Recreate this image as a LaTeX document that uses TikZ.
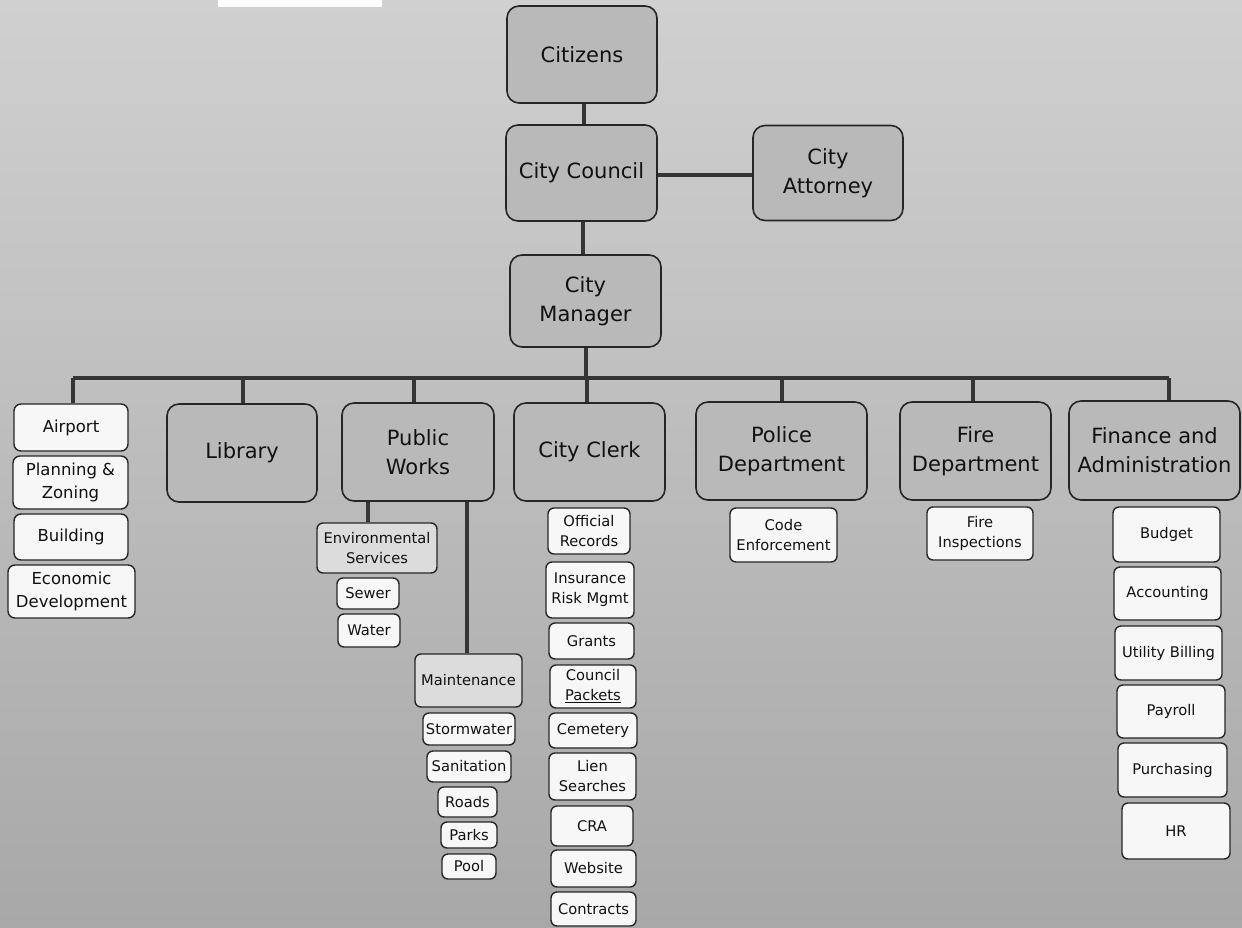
\documentclass[tikz,border=0pt]{standalone}
\usepackage{fontspec}
\setmainfont{DejaVu Sans}
\definecolor{bgtop}{HTML}{D0D0D0}
\definecolor{bgmid}{HTML}{ABABAB}
\definecolor{bgbot}{HTML}{A8A8A8}
\definecolor{boxgrey}{HTML}{B9B9B9}
\definecolor{boxwhite}{HTML}{F7F7F7}
\definecolor{boxlite}{HTML}{DCDCDC}
\definecolor{boxline}{HTML}{262626}
\definecolor{connc}{HTML}{353535}
\definecolor{txt}{HTML}{111111}
\begin{document}
\begin{tikzpicture}[x=1pt,y=-1pt,
  box/.style={draw=boxline, line width=1.6pt, rounded corners=12pt, fill=boxgrey, text=txt, align=center, inner sep=0pt, font=\fontsize{21}{29}\selectfont},
  sub/.style={draw=boxline, line width=1.4pt, rounded corners=6pt, fill=boxwhite, text=txt, align=center, inner sep=0pt, font=\fontsize{14.7}{20}\selectfont},
  side/.style={sub, rounded corners=7pt, font=\fontsize{16.5}{23}\selectfont},
  lite/.style={sub, fill=boxlite},
  conn/.style={draw=connc, line width=4pt},
  sz/.style 2 args={minimum width=#1pt, minimum height=#2pt}]
\useasboundingbox (0,0) rectangle (1242,927);
\shade[top color=bgtop, middle color=bgmid, bottom color=bgbot] (0,0) rectangle (1242,927);
\fill[white] (218,0) rectangle (382,7);

% top levels
\node[box, sz={150}{97}] (citizens) at (582,54.5) {Citizens};
\node[box, sz={151}{96}] (council) at (581.5,173) {City Council};
\node[box, sz={150}{95}] (attorney) at (828,173) {City\\Attorney};
\node[box, sz={151}{92}] (manager) at (585.5,301) {City\\Manager};

% second level
\node[side, sz={114}{47}] (airport) at (71,427.5) {Airport};
\node[side, sz={115}{53}] (planning) at (70.5,482.5) {Planning \&\\Zoning};
\node[side, sz={114}{46}] (building) at (71,537) {Building};
\node[side, sz={127}{53}] (econ) at (71.5,591.5) {Economic\\Development};
\node[box, sz={150}{98}] (library) at (242,453) {Library};
\node[box, sz={152}{98}] (pw) at (418,452) {Public\\Works};
\node[box, sz={151}{98}] (clerk) at (589.5,452) {City Clerk};
\node[box, sz={171}{98}] (police) at (781.5,451) {Police\\Department};
\node[box, sz={151}{98}] (fire) at (975.5,451) {Fire\\Department};
\node[box, sz={171}{99}] (finance) at (1154.5,450.5) {Finance and\\Administration};

% public works
\node[lite, sz={120}{50}] (env) at (377,548) {Environmental\\Services};
\node[sub, sz={62}{31}] (sewer) at (368,593.5) {Sewer};
\node[sub, sz={62}{33}] (water) at (369,630.5) {Water};
\node[lite, sz={107}{53}] (maint) at (468.5,680.5) {Maintenance};
\node[sub, sz={92}{32}] (storm) at (469,729) {Stormwater};
\node[sub, sz={84}{31}] (sanit) at (469,766.5) {Sanitation};
\node[sub, sz={59}{30}] (roads) at (467.5,802) {Roads};
\node[sub, sz={56}{26}] (parks) at (469,835) {Parks};
\node[sub, sz={54}{25}] (pool) at (469,866.5) {Pool};

% city clerk
\node[sub, sz={82}{46}] (records) at (589,531) {Official\\Records};
\node[sub, sz={88}{56}] (insurance) at (590,590) {Insurance\\Risk Mgmt};
\node[sub, sz={85}{36}] (grants) at (591.5,641) {Grants};
\node[sub, sz={86}{43}] (packets) at (593,686.5) {Council\\\underline{Packets}};
\node[sub, sz={88}{35}] (cemetery) at (593,730.5) {Cemetery};
\node[sub, sz={87}{47}] (lien) at (592.5,776.5) {Lien\\Searches};
\node[sub, sz={82}{40}] (cra) at (592,826) {CRA};
\node[sub, sz={85}{37}] (website) at (593.5,868.5) {Website};
\node[sub, sz={85}{34}] (contracts) at (593.5,909) {Contracts};

% police, fire
\node[sub, sz={107}{54}] (codeenf) at (783.5,535) {Code\\Enforcement};
\node[sub, sz={106}{53}] (fireinsp) at (980,533.5) {Fire\\Inspections};

% finance
\node[sub, sz={107}{55}] (budget) at (1166.5,534.5) {Budget};
\node[sub, sz={107}{53}] (accounting) at (1167.5,593.5) {Accounting};
\node[sub, sz={107}{54}] (utility) at (1168.5,653) {Utility Billing};
\node[sub, sz={108}{53}] (payroll) at (1171,711.5) {Payroll};
\node[sub, sz={109}{54}] (purchasing) at (1172.5,770) {Purchasing};
\node[sub, sz={108}{56}] (hr) at (1176,831) {HR};

% connectors
\coordinate (bus) at (586,378);
\draw[conn] ([xshift=2pt]citizens.south) -- ([xshift=2pt]citizens.south |- council.north);
\draw[conn] ([yshift=-1.5pt]council.east) -- ([yshift=-1.5pt]council.east -| attorney.west);
\draw[conn] ([xshift=1.5pt]council.south) -- ([xshift=1.5pt]council.south |- manager.north);
\draw[conn] (manager.south) -- (manager.south |- bus);
\draw[conn] ([xshift=2pt]airport.north |- bus) -- ([xshift=14.5pt]finance.north |- bus);
\draw[conn] ([xshift=2pt]airport.north) -- ([xshift=2pt]airport.north |- bus);
\draw[conn] ([xshift=1pt]library.north) -- ([xshift=1pt]library.north |- bus);
\draw[conn] ([xshift=-4pt]pw.north) -- ([xshift=-4pt]pw.north |- bus);
\draw[conn] ([xshift=-2.5pt]clerk.north) -- ([xshift=-2.5pt]clerk.north |- bus);
\draw[conn] (police.north) -- (police.north |- bus);
\draw[conn] ([xshift=-2.5pt]fire.north) -- ([xshift=-2.5pt]fire.north |- bus);
\draw[conn] ([xshift=14.5pt]finance.north) -- ([xshift=14.5pt]finance.north |- bus);
\draw[conn] ([xshift=-9pt]env.north) -- ([xshift=-9pt]env.north |- pw.south);
\draw[conn] ([xshift=-1.5pt]maint.north) -- ([xshift=-1.5pt]maint.north |- pw.south);
\end{tikzpicture}
\end{document}
